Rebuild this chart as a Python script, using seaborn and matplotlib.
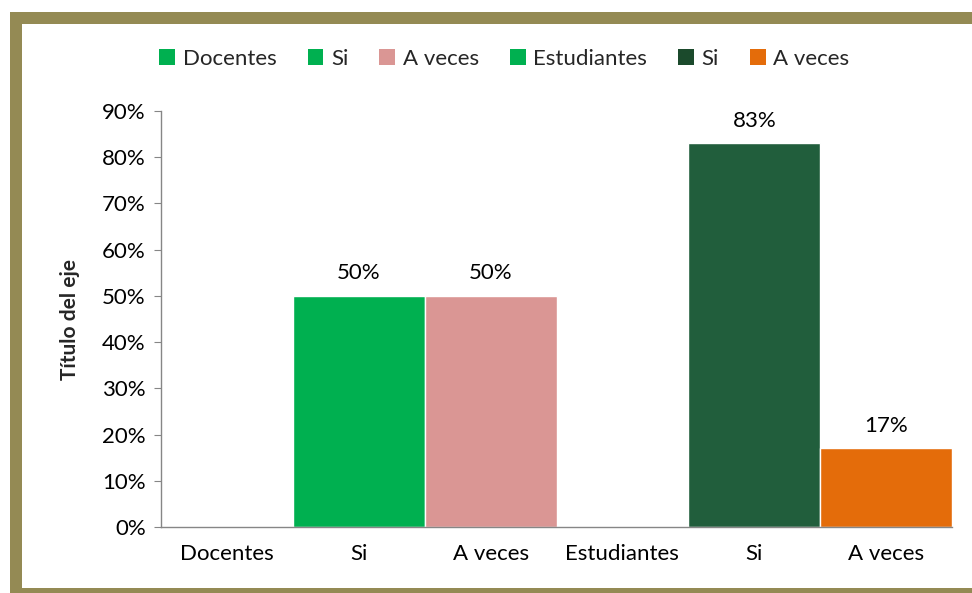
import matplotlib
matplotlib.use('Agg')
import matplotlib.pyplot as plt
import matplotlib.patches as mpatches
from matplotlib.ticker import PercentFormatter
import seaborn as sns
import pandas as pd

# Chart data
categorias = ['Docentes', 'Si', 'A veces', 'Estudiantes', 'Si', 'A veces']
valores = [0.0, 0.50, 0.50, 0.0, 0.83, 0.17]
etiquetas = ['', '50%', '50%', '', '83%', '17%']
colores = ['#00B050', '#00B050', '#DA9694', '#00B050', '#215E3C', '#E46C0A']
leyenda = ['Docentes', 'Si', 'A veces', 'Estudiantes', 'Si', 'A veces']

sns.set_style('white')
plt.rcParams['font.family'] = ['Lato', 'DejaVu Sans']
fs = 16

df = pd.DataFrame({
    'pos': [f'c{i}' for i in range(len(categorias))],
    'valor': valores,
})

fig = plt.figure(figsize=(9.72, 5.93), dpi=100)
ax = fig.add_axes([161 / 972, 1 - 527 / 593, (952 - 161) / 972, (527 - 111) / 593])

sns.barplot(data=df, x='pos', y='valor', hue='pos', palette=colores,
            width=1.0, saturation=1, legend=False, ax=ax)

# Value labels above the bars
for i, (v, t) in enumerate(zip(valores, etiquetas)):
    if t:
        ax.text(i, v + 0.049, t, ha='center', va='center', fontsize=fs, color='black')

ax.set_xlim(-0.5, len(categorias) - 0.5)
ax.set_ylim(0, 0.9)
ax.set_yticks([i / 10 for i in range(10)])
ax.yaxis.set_major_formatter(PercentFormatter(1.0, decimals=0))
ax.set_xticks(range(len(categorias)))
ax.set_xticklabels(categorias)
ax.set_xlabel('')
ax.set_ylabel('Título del eje', fontweight='bold', fontsize=fs - 1)
ax.yaxis.set_label_coords(-0.103, 0.5)

for s in ['top', 'right']:
    ax.spines[s].set_visible(False)
for s in ['left', 'bottom']:
    ax.spines[s].set_color('#868686')
    ax.spines[s].set_linewidth(1.0)
ax.tick_params(axis='y', length=5, color='#868686', direction='out', left=True,
               pad=6, labelsize=fs, labelcolor='black')
ax.tick_params(axis='x', length=0, pad=12, labelsize=fs, labelcolor='black')

# Legend across the top
handles = [mpatches.Patch(facecolor=c, edgecolor='none')
           for c in ['#00B050', '#00B050', '#DA9694', '#00B050', '#1B4A2C', '#E46C0A']]
fig.legend(handles, leyenda, loc='center', bbox_to_anchor=(0.519, 1 - 59 / 593), ncol=6,
           frameon=False, handlelength=0.7, handleheight=0.7, columnspacing=1.4,
           handletextpad=0.35, fontsize=fs)

# Olive outer frame
marco = mpatches.Rectangle((16 / 972, -1 / 593), (990 - 16) / 972, (575 + 1) / 593,
                           transform=fig.transFigure, fill=False,
                           edgecolor='#948A54', linewidth=8.64, clip_on=False)
fig.patches.append(marco)

fig.savefig('out.png', dpi=100)
